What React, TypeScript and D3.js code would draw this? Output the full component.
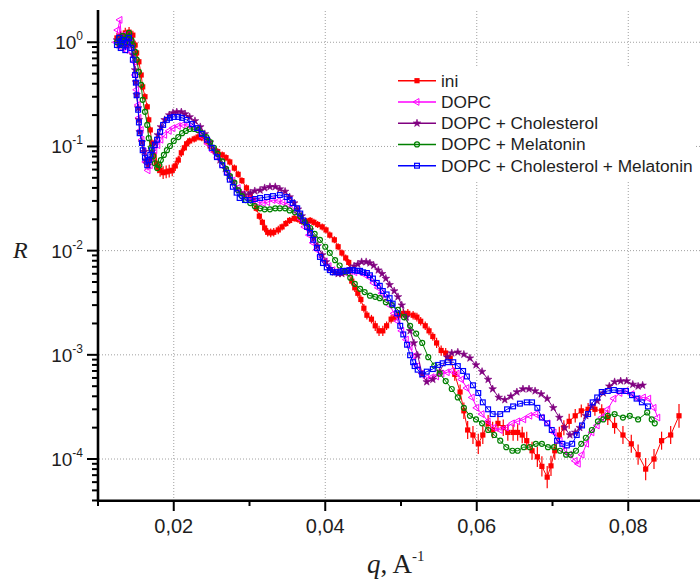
import React from "react";
import * as d3 from "d3";

// q (A^-1), R
const ini: [number, number][] = [
  [0.0125, 1.1], [0.0128, 0.94], [0.013, 1.15], [0.0133, 1.0], [0.0136, 1.23], [0.0138, 1.05], [0.0141, 1.25], [0.0144, 1.1], [0.0146, 1.17], [0.0149, 0.94],
  [0.0151, 0.79], [0.0154, 0.65], [0.0157, 0.485], [0.0159, 0.373], [0.0162, 0.3], [0.0165, 0.24], [0.0167, 0.18], [0.0169, 0.144], [0.0171, 0.108], [0.0174, 0.083],
  [0.0177, 0.069], [0.0179, 0.063], [0.0182, 0.059], [0.0186, 0.056], [0.019, 0.057], [0.0194, 0.058], [0.0198, 0.059], [0.0202, 0.065], [0.0206, 0.074], [0.021, 0.087],
  [0.0214, 0.097], [0.0217, 0.106], [0.0221, 0.113], [0.0227, 0.118], [0.0232, 0.123], [0.0237, 0.121], [0.0243, 0.113], [0.0248, 0.101], [0.0253, 0.092], [0.0258, 0.089],
  [0.0264, 0.083], [0.0269, 0.078], [0.0274, 0.071], [0.028, 0.062], [0.0285, 0.054], [0.029, 0.047], [0.0296, 0.04], [0.0301, 0.0342], [0.0305, 0.0306], [0.0309, 0.0255],
  [0.0313, 0.0214], [0.0317, 0.0187], [0.032, 0.0165], [0.0324, 0.015], [0.0328, 0.0148], [0.0332, 0.015], [0.0338, 0.0158], [0.0343, 0.0169], [0.0348, 0.0182], [0.0353, 0.0195],
  [0.0359, 0.0204], [0.0364, 0.02], [0.0369, 0.0191], [0.0375, 0.0191], [0.038, 0.0195], [0.0385, 0.0187], [0.039, 0.0178], [0.0396, 0.0169], [0.0401, 0.0158], [0.0406, 0.0141],
  [0.0412, 0.0127], [0.0417, 0.0109], [0.0422, 0.0095], [0.0427, 0.0085], [0.0431, 0.0077], [0.0435, 0.0051], [0.0439, 0.0044], [0.0443, 0.0039], [0.0447, 0.0034], [0.0451, 0.0028],
  [0.0455, 0.0024], [0.0461, 0.0022], [0.0466, 0.0019], [0.0471, 0.0017], [0.0476, 0.0017], [0.0481, 0.0019], [0.0487, 0.0022], [0.0492, 0.0023], [0.0497, 0.0024], [0.0503, 0.0025],
  [0.0509, 0.0025], [0.0516, 0.0024], [0.0521, 0.0023], [0.0526, 0.0021], [0.0532, 0.0019], [0.0537, 0.0017], [0.0542, 0.0015], [0.0547, 0.0013], [0.0553, 0.0011], [0.0559, 0.00104],
  [0.0565, 0.00093], [0.0571, 0.00065], [0.0578, 0.00044], [0.0583, 0.00029], [0.0588, 0.00019], [0.0595, 0.00017], [0.0602, 0.00014], [0.0608, 0.00017], [0.0615, 0.00022], [0.0621, 0.00019],
  [0.0628, 0.00022], [0.0635, 0.0002], [0.0641, 0.00018], [0.0648, 0.00018], [0.0654, 0.00018], [0.066, 0.00017], [0.0666, 0.00015], [0.0673, 0.00012], [0.068, 0.000105], [0.0686, 0.000085],
  [0.0693, 0.000067], [0.0698, 0.000086], [0.0703, 0.00012], [0.0709, 0.00017], [0.0715, 0.0002], [0.0722, 0.00023], [0.073, 0.00026], [0.0738, 0.00029], [0.0747, 0.0003], [0.0756, 0.0003],
  [0.0765, 0.00029], [0.0773, 0.00025], [0.0782, 0.00021], [0.0793, 0.00017], [0.0804, 0.00014], [0.0813, 0.00011], [0.0823, 0.00008], [0.0834, 0.0001], [0.0844, 0.00015], [0.0856, 0.00017],
  [0.0867, 0.00026],
];

// relative error of the ini points (same order as ini)
const iniErr: number[] = [
  0.12, 0.1, 0.12, 0.1, 0.12, 0.1, 0.12, 0.1, 0.1, 0.1,
  0.08, 0.08, 0.08, 0.08, 0.08, 0.08, 0.08, 0.08, 0.1, 0.1,
  0.14, 0.14, 0.15, 0.15, 0.15, 0.15, 0.14, 0.12, 0.1, 0.1,
  0.08, 0.08, 0.08, 0.08, 0.08, 0.08, 0.08, 0.08, 0.08, 0.08,
  0.08, 0.08, 0.08, 0.08, 0.08, 0.08, 0.08, 0.08, 0.08, 0.08,
  0.08, 0.08, 0.1, 0.1, 0.1, 0.1, 0.1, 0.08, 0.08, 0.08,
  0.08, 0.08, 0.08, 0.08, 0.08, 0.08, 0.08, 0.08, 0.08, 0.08,
  0.08, 0.08, 0.08, 0.08, 0.08, 0.1, 0.1, 0.1, 0.1, 0.1,
  0.1, 0.1, 0.12, 0.12, 0.12, 0.1, 0.1, 0.1, 0.1, 0.1,
  0.1, 0.1, 0.1, 0.1, 0.1, 0.1, 0.1, 0.12, 0.12, 0.12,
  0.12, 0.15, 0.18, 0.2, 0.22, 0.22, 0.25, 0.22, 0.2, 0.2,
  0.2, 0.2, 0.2, 0.2, 0.2, 0.2, 0.22, 0.22, 0.25, 0.25,
  0.28, 0.25, 0.22, 0.2, 0.18, 0.18, 0.16, 0.15, 0.15, 0.15,
  0.16, 0.18, 0.2, 0.22, 0.22, 0.25, 0.28, 0.25, 0.22, 0.22,
  0.3,
];

const dopc: [number, number][] = [
  [0.0124, 1.0], [0.0126, 1.31], [0.0129, 1.64], [0.0132, 0.88], [0.0134, 1.17], [0.0137, 0.84], [0.014, 1.05], [0.0142, 0.94], [0.0145, 0.81], [0.0148, 0.65],
  [0.0149, 0.485], [0.0151, 0.35], [0.0153, 0.25], [0.0154, 0.188], [0.0157, 0.144], [0.0158, 0.116], [0.0161, 0.089], [0.0163, 0.071], [0.0166, 0.059], [0.0169, 0.066],
  [0.0171, 0.078], [0.0175, 0.092], [0.0179, 0.103], [0.0183, 0.116], [0.0188, 0.129], [0.0194, 0.141], [0.0199, 0.15], [0.0206, 0.157], [0.0212, 0.161], [0.0219, 0.161],
  [0.0225, 0.154], [0.0232, 0.141], [0.0239, 0.123], [0.0245, 0.106], [0.0252, 0.09], [0.0258, 0.078], [0.0265, 0.065], [0.0272, 0.055], [0.0278, 0.047], [0.0285, 0.04],
  [0.0291, 0.035], [0.0298, 0.032], [0.0305, 0.0306], [0.0311, 0.0292], [0.0318, 0.0286], [0.0324, 0.0292], [0.0331, 0.0306], [0.0338, 0.0299], [0.0344, 0.0292], [0.0351, 0.0279],
  [0.0357, 0.026], [0.0363, 0.0233], [0.0368, 0.02], [0.0373, 0.0169], [0.0379, 0.0141], [0.0384, 0.0119], [0.0389, 0.0102], [0.0394, 0.0089], [0.04, 0.0079], [0.0405, 0.0071],
  [0.041, 0.0065], [0.0415, 0.0063], [0.0421, 0.0062], [0.0426, 0.0062], [0.0433, 0.0062], [0.0439, 0.0062], [0.0446, 0.0062], [0.0452, 0.0059], [0.0459, 0.0055], [0.0464, 0.0049],
  [0.047, 0.0044], [0.0475, 0.0039], [0.048, 0.0035], [0.0485, 0.003], [0.0491, 0.0025], [0.0496, 0.0021], [0.0501, 0.0017], [0.0507, 0.0014], [0.0512, 0.0012], [0.0517, 0.00097],
  [0.0522, 0.00078], [0.0528, 0.00066], [0.0534, 0.0006], [0.0541, 0.00061], [0.0547, 0.00062], [0.0554, 0.00066], [0.0561, 0.00068], [0.0567, 0.0007], [0.0574, 0.00066], [0.058, 0.00058],
  [0.0587, 0.00048], [0.0594, 0.00039], [0.06, 0.00031], [0.0607, 0.00027], [0.0615, 0.00023], [0.0623, 0.0002], [0.0631, 0.00019], [0.0639, 0.0002], [0.0647, 0.00022], [0.0654, 0.00023],
  [0.0662, 0.00024], [0.067, 0.00026], [0.0678, 0.00027], [0.0686, 0.00025], [0.0694, 0.00022], [0.0702, 0.00018], [0.071, 0.00015], [0.0716, 0.00012], [0.0723, 0.00011], [0.073, 0.000096],
  [0.0734, 0.00009], [0.0739, 0.00011], [0.0745, 0.00014], [0.0752, 0.00018], [0.0759, 0.00021], [0.0765, 0.00025], [0.0773, 0.0003], [0.0781, 0.00038], [0.0789, 0.00043], [0.0797, 0.00045],
  [0.0805, 0.00042], [0.0813, 0.00038], [0.082, 0.00039], [0.0827, 0.00038], [0.0834, 0.00031], [0.0839, 0.00025],
];

const dopcChol: [number, number][] = [
  [0.0125, 1.05], [0.0128, 0.94], [0.013, 1.15], [0.0133, 1.0], [0.0136, 1.1], [0.0138, 0.94], [0.0141, 1.17], [0.0144, 1.0], [0.0146, 0.755], [0.0149, 0.542],
  [0.015, 0.415], [0.0151, 0.314], [0.0153, 0.234], [0.0154, 0.18], [0.0155, 0.138], [0.0158, 0.11], [0.0161, 0.089], [0.0163, 0.074], [0.0166, 0.066], [0.0169, 0.074],
  [0.0171, 0.089], [0.0175, 0.108], [0.0179, 0.129], [0.0183, 0.154], [0.0188, 0.18], [0.0194, 0.2], [0.0199, 0.21], [0.0204, 0.214], [0.021, 0.214], [0.0215, 0.205],
  [0.0221, 0.192], [0.0228, 0.176], [0.0235, 0.154], [0.0241, 0.132], [0.0248, 0.11], [0.0255, 0.09], [0.0261, 0.074], [0.0268, 0.061], [0.0273, 0.052], [0.0278, 0.045],
  [0.0283, 0.039], [0.0289, 0.0358], [0.0294, 0.0342], [0.0301, 0.0358], [0.0307, 0.0374], [0.0314, 0.038], [0.032, 0.04], [0.0327, 0.041], [0.0334, 0.041], [0.034, 0.039],
  [0.0347, 0.037], [0.0353, 0.0327], [0.0359, 0.0286], [0.0364, 0.025], [0.0369, 0.0215], [0.0375, 0.0182], [0.038, 0.0158], [0.0385, 0.0132], [0.039, 0.0111], [0.0396, 0.0091],
  [0.0401, 0.0078], [0.0406, 0.0067], [0.0412, 0.0062], [0.0417, 0.006], [0.0422, 0.006], [0.0427, 0.0062], [0.0433, 0.0067], [0.0438, 0.0071], [0.0443, 0.0074], [0.0448, 0.0078],
  [0.0454, 0.0078], [0.0459, 0.0076], [0.0464, 0.0072], [0.047, 0.0065], [0.0475, 0.006], [0.048, 0.0054], [0.0485, 0.0047], [0.0491, 0.0041], [0.0496, 0.0036], [0.0501, 0.003],
  [0.0507, 0.0023], [0.0512, 0.0017], [0.0517, 0.0013], [0.0522, 0.00099], [0.0528, 0.00065], [0.0534, 0.00055], [0.0542, 0.00058], [0.0551, 0.00069], [0.0561, 0.00095], [0.0567, 0.00104],
  [0.0575, 0.00106], [0.0583, 0.00101], [0.0591, 0.00093], [0.0599, 0.0008], [0.0607, 0.00069], [0.0615, 0.00058], [0.0621, 0.00047], [0.0629, 0.00039], [0.0637, 0.00037], [0.0645, 0.0004],
  [0.0653, 0.00044], [0.0661, 0.00047], [0.0669, 0.00047], [0.0677, 0.00045], [0.0685, 0.00042], [0.0693, 0.00038], [0.0701, 0.00031], [0.0709, 0.00025], [0.0716, 0.0002], [0.0723, 0.00017],
  [0.073, 0.00018], [0.0736, 0.0002], [0.0744, 0.00026], [0.0752, 0.00032], [0.0759, 0.00036], [0.0767, 0.00043], [0.0775, 0.0005], [0.0782, 0.00055], [0.079, 0.00056], [0.0798, 0.00056],
  [0.0806, 0.00052], [0.0813, 0.0005], [0.0819, 0.00051],
];

const dopcMel: [number, number][] = [
  [0.0125, 1.0], [0.0128, 1.1], [0.013, 0.94], [0.0133, 1.15], [0.0136, 1.0], [0.0138, 1.1], [0.0141, 1.23], [0.0144, 1.05], [0.0146, 0.94], [0.0149, 0.81],
  [0.0151, 0.68], [0.0154, 0.52], [0.0157, 0.39], [0.0159, 0.28], [0.0162, 0.215], [0.0165, 0.161], [0.0167, 0.12], [0.017, 0.097], [0.0173, 0.081], [0.0175, 0.069],
  [0.0178, 0.062], [0.0181, 0.066], [0.0183, 0.074], [0.0187, 0.083], [0.0191, 0.092], [0.0195, 0.101], [0.02, 0.113], [0.0206, 0.123], [0.0211, 0.134], [0.0216, 0.141],
  [0.0221, 0.147], [0.0227, 0.147], [0.0232, 0.144], [0.0237, 0.134], [0.0243, 0.123], [0.0248, 0.11], [0.0253, 0.097], [0.0258, 0.085], [0.0264, 0.072], [0.0269, 0.061],
  [0.0274, 0.052], [0.028, 0.045], [0.0285, 0.038], [0.029, 0.0334], [0.0295, 0.0306], [0.0301, 0.0286], [0.0307, 0.0267], [0.0314, 0.0255], [0.032, 0.0249], [0.0327, 0.0249],
  [0.0334, 0.0255], [0.034, 0.0255], [0.0347, 0.0255], [0.0353, 0.0243], [0.036, 0.0233], [0.0367, 0.0214], [0.0373, 0.0187], [0.038, 0.0165], [0.0386, 0.0145], [0.0393, 0.0127],
  [0.04, 0.0109], [0.0406, 0.0095], [0.0413, 0.0081], [0.0419, 0.0072], [0.0426, 0.0063], [0.0433, 0.0055], [0.0439, 0.0048], [0.0446, 0.0043], [0.0452, 0.004], [0.0459, 0.0037],
  [0.0466, 0.0036], [0.0472, 0.0035], [0.048, 0.0032], [0.0488, 0.003], [0.0496, 0.0027], [0.0504, 0.0023], [0.0512, 0.0019], [0.052, 0.0016], [0.0528, 0.0013], [0.0536, 0.00095],
  [0.0544, 0.00079], [0.0551, 0.00066], [0.0559, 0.00056], [0.0567, 0.00047], [0.0575, 0.00039], [0.0583, 0.00031], [0.0591, 0.00026], [0.0599, 0.00024], [0.0607, 0.00022], [0.0615, 0.00019],
  [0.0623, 0.00017], [0.0631, 0.00015], [0.0639, 0.00013], [0.0647, 0.00012], [0.0654, 0.00012], [0.0662, 0.00013], [0.067, 0.00013], [0.0678, 0.00014], [0.0686, 0.00014], [0.0694, 0.00013],
  [0.0702, 0.00013], [0.071, 0.00012], [0.0718, 0.00011], [0.0724, 0.00011], [0.0731, 0.00012], [0.0738, 0.00014], [0.0744, 0.00016], [0.0752, 0.00019], [0.076, 0.00023], [0.0767, 0.00024],
  [0.0773, 0.00026], [0.0782, 0.00027], [0.0793, 0.00025], [0.0802, 0.00026], [0.0813, 0.00024], [0.0825, 0.00028], [0.0831, 0.00024], [0.0835, 0.00022],
];

const dopcCholMel: [number, number][] = [
  [0.0125, 0.94], [0.0128, 1.1], [0.013, 0.88], [0.0133, 1.05], [0.0136, 0.84], [0.0138, 1.0], [0.0141, 1.1], [0.0144, 0.88], [0.0146, 0.68], [0.0149, 0.485],
  [0.015, 0.41], [0.0151, 0.31], [0.0153, 0.225], [0.0154, 0.17], [0.0155, 0.134], [0.0158, 0.108], [0.0159, 0.092], [0.0162, 0.078], [0.0165, 0.066], [0.0167, 0.074],
  [0.0169, 0.083], [0.0171, 0.092], [0.0175, 0.103], [0.0178, 0.116], [0.0182, 0.138], [0.0186, 0.161], [0.0191, 0.18], [0.0195, 0.188], [0.02, 0.192], [0.0206, 0.192],
  [0.0211, 0.188], [0.0217, 0.18], [0.0224, 0.164], [0.0231, 0.15], [0.0237, 0.132], [0.0244, 0.116], [0.025, 0.097], [0.0257, 0.079], [0.0264, 0.066], [0.027, 0.056],
  [0.0274, 0.048], [0.0278, 0.041], [0.0283, 0.036], [0.0287, 0.032], [0.0294, 0.0306], [0.0301, 0.0306], [0.0307, 0.0313], [0.0314, 0.032], [0.0323, 0.0327], [0.0331, 0.0334],
  [0.034, 0.0342], [0.0349, 0.0327], [0.0353, 0.0306], [0.0357, 0.0286], [0.0363, 0.0255], [0.0367, 0.0227], [0.0371, 0.0195], [0.0376, 0.0169], [0.038, 0.0148], [0.0384, 0.0127],
  [0.0389, 0.0106], [0.0393, 0.0087], [0.0397, 0.0076], [0.0402, 0.0069], [0.0406, 0.0065], [0.041, 0.0062], [0.0415, 0.0062], [0.0419, 0.0062], [0.0423, 0.0064], [0.0429, 0.0064],
  [0.0433, 0.0065], [0.0437, 0.0065], [0.0442, 0.0064], [0.0446, 0.0064], [0.045, 0.0062], [0.0455, 0.0061], [0.0459, 0.0058], [0.0463, 0.0054], [0.0468, 0.0049], [0.0472, 0.0046],
  [0.0476, 0.0041], [0.0481, 0.0038], [0.0485, 0.0035], [0.0489, 0.0031], [0.0495, 0.0025], [0.0499, 0.0019], [0.0503, 0.00157], [0.0508, 0.00125], [0.0512, 0.00099], [0.0516, 0.00085],
  [0.0518, 0.00078], [0.0522, 0.00072], [0.0528, 0.00065], [0.0534, 0.00069], [0.0542, 0.00073], [0.0549, 0.0008], [0.0555, 0.00083], [0.0562, 0.00085], [0.0569, 0.00085], [0.0575, 0.00078],
  [0.0582, 0.0007], [0.0587, 0.00062], [0.0595, 0.00051], [0.0602, 0.00043], [0.0608, 0.00035], [0.0615, 0.0003], [0.0621, 0.00027], [0.0631, 0.00027], [0.064, 0.0003], [0.0648, 0.00032],
  [0.0657, 0.00034], [0.0666, 0.00035], [0.0673, 0.00035], [0.068, 0.00031], [0.0686, 0.00025], [0.0693, 0.00022], [0.0699, 0.00019], [0.0706, 0.00015], [0.0713, 0.00014], [0.0719, 0.000135],
  [0.0726, 0.00014], [0.0732, 0.00017], [0.0739, 0.00021], [0.0747, 0.00027], [0.0753, 0.00035], [0.0759, 0.00039], [0.0765, 0.00044], [0.0773, 0.00045], [0.0781, 0.00046], [0.0789, 0.00045],
  [0.0797, 0.00045], [0.0805, 0.00041], [0.0811, 0.00038], [0.0818, 0.00035], [0.0826, 0.00032],
];

const seriesNames = ["ini", "DOPC", "DOPC + Cholesterol", "DOPC + Melatonin", "DOPC + Cholesterol + Melatonin"];
const seriesData = [ini, dopc, dopcChol, dopcMel, dopcCholMel];
const seriesColors = ["#ff0000", "#ff00ff", "#800080", "#008000", "#0000ff"];
const seriesMarkers = ["filledSquare", "openTriangle", "star", "openCircle", "openSquare"];

const xMajorTicks = [0.02, 0.04, 0.06, 0.08];
const xMinorTicks = [0.01, 0.03, 0.05, 0.07];
const xTickLabels = ["0,02", "0,04", "0,06", "0,08"];
const yDecades = [-4, -3, -2, -1, 0];

const W = 700;
const H = 582;

function Marker({ type, color, cx, cy }: { type: string; color: string; cx: number; cy: number }) {
  if (type === "filledSquare") {
    return <rect x={cx - 2.6} y={cy - 2.6} width={5.2} height={5.2} fill={color} />;
  }
  if (type === "openSquare") {
    return <rect x={cx - 2.4} y={cy - 2.4} width={4.8} height={4.8} fill="none" stroke={color} strokeWidth={1.2} />;
  }
  if (type === "openCircle") {
    return <circle cx={cx} cy={cy} r={2.5} fill="none" stroke={color} strokeWidth={1.2} />;
  }
  if (type === "openTriangle") {
    const p = d3.symbol().type(d3.symbolTriangle).size(20)();
    return <path d={p || ""} transform={`translate(${cx},${cy}) rotate(-90)`} fill="none" stroke={color} strokeWidth={1} />;
  }
  const p = d3.symbol().type(d3.symbolStar).size(18)();
  return <path d={p || ""} transform={`translate(${cx},${cy})`} fill={color} stroke={color} strokeWidth={0.6} />;
}

export default function App() {
  const x = d3.scaleLinear().domain([0.01, 0.09]).range([98, 704]);
  const y = d3.scaleLog().domain([Math.pow(10, -4.4), Math.pow(10, 0.3)]).range([500.7, 11]);
  const line = d3
    .line<[number, number]>()
    .x((d) => x(d[0]))
    .y((d) => y(d[1]));

  const yTicks: { v: number; major: boolean }[] = [];
  for (let dd = -5; dd <= 0; dd++) {
    for (let k = 1; k <= 9; k++) {
      const v = k * Math.pow(10, dd);
      if (v >= Math.pow(10, -4.4) - 1e-12 && v <= Math.pow(10, 0.3) + 1e-9) yTicks.push({ v, major: k === 1 });
    }
  }

  const font = "Arial, 'Liberation Sans', sans-serif";
  const serif = "'Times New Roman', 'Liberation Serif', serif";
  const txt = "#1e1e1e";
  const legendY0 = 80.7;
  const legendDy = 21.25;

  return (
    <svg width={W} height={H} style={{ position: "absolute", left: 0, top: 0, background: "#fff" }}>
      <rect x={0} y={0} width={W} height={H} fill="#fff" />
      {/* grid */}
      <g stroke="#a0a0a0" strokeWidth={1} strokeDasharray="1,2">
        {xMajorTicks.map((t) => (
          <line key={"gx" + t} x1={x(t)} x2={x(t)} y1={11} y2={500} />
        ))}
        {yDecades.map((d) => (
          <line key={"gy" + d} x1={99} x2={700} y1={y(Math.pow(10, d))} y2={y(Math.pow(10, d))} />
        ))}
      </g>

      {/* series */}
      {seriesData.map((data, i) => (
        <g key={seriesNames[i]}>
          <path d={line(data) || ""} fill="none" stroke={seriesColors[i]} strokeWidth={1} />
          {i === 0 &&
            data.map((d, j) => (
              <line
                key={"e" + j}
                x1={x(d[0])}
                x2={x(d[0])}
                y1={y(d[1] * (1 + iniErr[j]))}
                y2={y(d[1] / (1 + iniErr[j]))}
                stroke={seriesColors[i]}
                strokeWidth={1.2}
              />
            ))}
          {data.map((d, j) => (
            <Marker key={j} type={seriesMarkers[i]} color={seriesColors[i]} cx={x(d[0])} cy={y(d[1])} />
          ))}
        </g>
      ))}

      {/* legend */}
      <rect x={397} y={68} width={299} height={112} fill="#fff" />
      {seriesNames.map((n, i) => {
        const ly = legendY0 + i * legendDy;
        return (
          <g key={"lg" + n}>
            <line x1={398} x2={436} y1={ly} y2={ly} stroke={seriesColors[i]} strokeWidth={1.6} />
            <Marker type={seriesMarkers[i]} color={seriesColors[i]} cx={417} cy={ly} />
            <text x={441} y={ly + 6} fontFamily={font} fontSize={17.3} fill={txt}>
              {n}
            </text>
          </g>
        );
      })}

      {/* axes */}
      <line x1={98} x2={98} y1={10} y2={501.5} stroke="#000" strokeWidth={2.6} />
      <line x1={97} x2={700} y1={500.7} y2={500.7} stroke="#000" strokeWidth={2.6} />
      {yTicks.map((t, i) => (
        <line key={"yt" + i} x1={t.major ? 87 : 92} x2={98} y1={y(t.v)} y2={y(t.v)} stroke="#000" strokeWidth={2} />
      ))}
      {yDecades.map((d) => (
        <text key={"yl" + d} x={83} y={y(Math.pow(10, d)) + 7} textAnchor="end" fontFamily={font} fontSize={19} fill={txt}>
          10
          <tspan dy={-9} fontSize={12}>
            {String(d)}
          </tspan>
        </text>
      ))}
      {xMajorTicks.map((t) => (
        <line key={"xt" + t} x1={x(t)} x2={x(t)} y1={500} y2={511} stroke="#000" strokeWidth={2} />
      ))}
      {xMinorTicks.map((t) => (
        <line key={"xm" + t} x1={x(t)} x2={x(t)} y1={500} y2={506} stroke="#000" strokeWidth={2} />
      ))}
      {xMajorTicks.map((t, i) => (
        <text key={"xl" + t} x={x(t)} y={533} textAnchor="middle" fontFamily={font} fontSize={20} fill={txt}>
          {xTickLabels[i]}
        </text>
      ))}

      {/* axis titles */}
      <text x={13} y={258} fontFamily={serif} fontSize={24} fontStyle="italic" fill={txt}>
        R
      </text>
      <text x={367} y={573} fontFamily={serif} fontSize={27} fill={txt}>
        <tspan fontStyle="italic">q</tspan>, A
        <tspan dy={-12} fontSize={15}>
          -1
        </tspan>
      </text>
    </svg>
  );
}
